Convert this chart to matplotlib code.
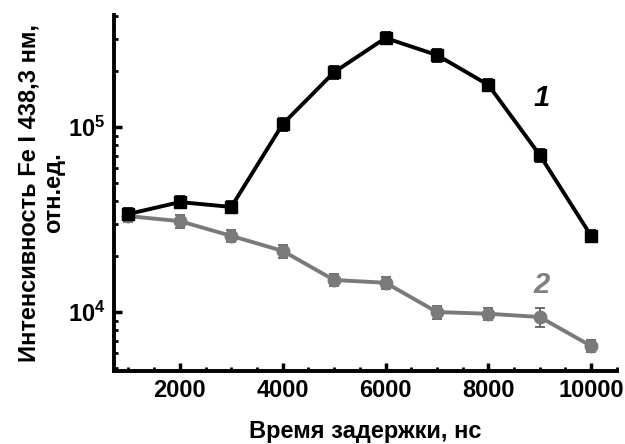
import matplotlib.pyplot as plt
from matplotlib.ticker import MultipleLocator, LogLocator, NullFormatter

plt.rcParams["font.family"] = ["Liberation Sans", "DejaVu Sans"]
plt.rcParams["font.weight"] = "bold"
plt.rcParams["mathtext.fontset"] = "custom"
plt.rcParams["mathtext.rm"] = "Liberation Sans:bold"
plt.rcParams["mathtext.it"] = "Liberation Sans:bold"
plt.rcParams["mathtext.bf"] = "Liberation Sans:bold"

# delay time, ns
delay = [1000, 2000, 3000, 4000, 5000, 6000, 7000, 8000, 9000, 10000]
# curve 1 (black squares)
int1 = [33900, 39300, 37000, 103800, 198000, 303000, 245000, 169000, 70600, 25800]
err1 = [2600, 3000, 2800, 8000, 15000, 23000, 19000, 13000, 5500, 2000]
# curve 2 (gray circles)
int2 = [33000, 31000, 25800, 21400, 14900, 14400, 10000, 9790, 9400, 6550]
err2 = [2500, 2400, 2000, 1700, 1150, 1100, 800, 750, 1100, 500]

fig = plt.figure(figsize=(6.25, 4.44), dpi=100)
ax = fig.add_axes([0.1824, 0.1644, 0.8046, 0.8016])

ax.errorbar(delay, int1, yerr=err1, color="black", marker="s", ms=9,
            lw=2.8, elinewidth=1.2, capsize=3.5, capthick=1.2, zorder=3)
ax.errorbar(delay, int2, yerr=err2, color="#7a7a7a", marker="o", ms=9,
            lw=2.8, elinewidth=1.2, capsize=3.5, capthick=1.2,
            ecolor="#555555", zorder=2)

ax.set_yscale("log")
ax.set_xlim(718, 10500)
ax.set_ylim(4800, 403000)

ax.xaxis.set_major_locator(MultipleLocator(2000))
ax.xaxis.set_minor_locator(MultipleLocator(500))
ax.yaxis.set_major_locator(LogLocator(base=10, numticks=10))
ax.yaxis.set_minor_locator(LogLocator(base=10, subs=range(2, 10), numticks=10))
ax.yaxis.set_minor_formatter(NullFormatter())

for s in ["top", "right"]:
    ax.spines[s].set_visible(False)
for s in ["left", "bottom"]:
    ax.spines[s].set_linewidth(2.8)

ax.tick_params(which="major", direction="in", length=6, width=2.5, labelsize=17, pad=6)
ax.tick_params(which="minor", direction="in", length=3, width=2)
for lab in ax.get_xticklabels() + ax.get_yticklabels():
    lab.set_fontweight("bold")

ax.set_xlabel("Время задержки, нс", fontsize=17, fontweight="bold", labelpad=13)
ax.set_ylabel("Интенсивность Fe I 438,3 нм,\nотн.ед.", fontsize=17,
              fontweight="bold", labelpad=2, linespacing=1.1)

ax.text(9030, 1.436e5, "1", fontsize=21, fontweight="bold", style="italic",
        color="black", ha="center", va="center")
ax.text(9030, 1.40e4, "2", fontsize=21, fontweight="bold", style="italic",
        color="#808080", ha="center", va="center")

fig.savefig("out.png", dpi=100)
